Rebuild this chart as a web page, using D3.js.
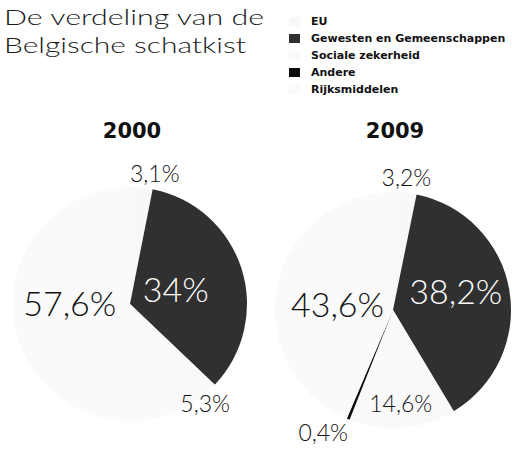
<!DOCTYPE html>
<html>
<head>
<meta charset="utf-8">
<script src="https://cdn.jsdelivr.net/npm/d3@7"></script>
<style>
  html, body { margin: 0; padding: 0; background: #fff; }
  svg { display: block; }
</style>
</head>
<body>
<svg id="chart" width="512" height="452"></svg>
<script>
// data
const categories = ["EU", "Gewesten en Gemeenschappen", "Sociale zekerheid", "Andere", "Rijksmiddelen"];
const years = ["2000", "2009"];
const values2000 = [3.1, 34, 5.3, 0, 57.6];
const values2009 = [3.2, 38.2, 14.6, 0.4, 43.6];
const titleLines = ["De verdeling van de", "Belgische schatkist"];

const holder = {
  "svg": d3.select("#chart"),
  "colors": ["#f8f8f8", "#303030", "#f9f9f9", "#0d0d0d", "#fafafa"],
  "pies": [
    {"cx": 130, "cy": 304, "r": 117},
    {"cx": 393, "cy": 310, "r": 118}
  ],
  // label placement per year, per category: k = radius factor, dx/dy shift
  "place": [
    [{"k": 1.12, "dx": 12, "dy": 0}, {"k": 0.41, "dx": 0, "dy": 0}, {"k": 1.07, "dx": 0, "dy": 0}, null, {"k": 0.53, "dx": 0, "dy": -15}],
    [{"k": 1.13, "dx": 0, "dy": 0}, {"k": 0.54, "dx": 0, "dy": -7}, {"k": 0.8, "dx": 0, "dy": 0}, {"k": 1.2, "dx": -16, "dy": -8}, {"k": 0.48, "dx": 0, "dy": 6}]
  ]
};

const nl = d3.formatLocale({"decimal": ",", "thousands": ".", "grouping": [3], "currency": ["€", ""]});
const pct = (v) => nl.format(".1~f")(v) + "%";

function start() {
  drawTitle();
  drawLegend();
  drawPie(0, values2000);
  drawPie(1, values2009);
}

function drawTitle() {
  const svg = holder.svg;
  svg.selectAll("text.title")
    .data(titleLines)
    .enter()
    .append("text")
    .attr("class", "title")
    .attr("x", 4)
    .attr("y", (d, i) => 25 + i * 28)
    .attr("font-family", "Lato, 'DejaVu Sans', sans-serif")
    .attr("font-weight", 300)
    .attr("font-size", "21px")
    .attr("fill", "#1a1a1a")
    .attr("textLength", (d, i) => i == 0 ? 260 : 242)
    .attr("lengthAdjust", "spacingAndGlyphs")
    .text(d => d);
}

function drawLegend() {
  const g = holder.svg.append("g").attr("class", "legend");
  const y = d3.scalePoint().domain(categories).range([25, 93]);
  const rows = g.selectAll("g").data(categories).enter().append("g");
  rows.append("rect")
    .attr("x", 289)
    .attr("y", d => y(d) - 8)
    .attr("width", 11)
    .attr("height", 9)
    .attr("fill", (d, i) => holder.colors[i]);
  rows.append("text")
    .attr("x", 311)
    .attr("y", d => y(d))
    .attr("font-family", "'DejaVu Sans', sans-serif")
    .attr("font-weight", "bold")
    .attr("font-size", "11px")
    .attr("fill", "#111")
    .text(d => d);
}

function drawPie(idx, values) {
  const p = holder.pies[idx];
  const g = holder.svg.append("g").attr("transform", "translate(" + p.cx + "," + p.cy + ")");
  const pie = d3.pie().sort(null).value(d => d.v);
  const data = pie(categories.map((c, i) => ({"c": c, "i": i, "v": values[i]})));
  const arc = d3.arc().innerRadius(0).outerRadius(p.r);

  g.selectAll("path")
    .data(data.filter(d => d.data.v > 0))
    .enter()
    .append("path")
    .attr("d", arc)
    .attr("fill", d => holder.colors[d.data.i]);

  // year on top
  holder.svg.append("text")
    .attr("x", p.cx + 2)
    .attr("y", 138)
    .attr("text-anchor", "middle")
    .attr("font-family", "'DejaVu Sans', sans-serif")
    .attr("font-weight", "bold")
    .attr("font-size", "21px")
    .attr("fill", "#111")
    .text(years[idx]);

  const big = [false, true, false, false, true];
  g.selectAll("text")
    .data(data.filter(d => d.data.v > 0))
    .enter()
    .append("text")
    .attr("transform", function(d) {
      const pl = holder.place[idx][d.data.i];
      const rr = p.r * pl.k;
      const c = d3.arc().innerRadius(rr).outerRadius(rr).centroid(d);
      const fs = big[d.data.i] ? 34 : 23;
      return "translate(" + (c[0] + pl.dx) + "," + (c[1] + pl.dy + fs * 0.36) + ")";
    })
    .attr("text-anchor", "middle")
    .attr("font-family", "Lato, 'DejaVu Sans', sans-serif")
    .attr("font-weight", 300)
    .attr("font-size", d => big[d.data.i] ? "34px" : "23px")
    .attr("fill", d => d.data.i == 1 ? "#fff" : "#111")
    .text(d => pct(d.data.v));
}

start();
</script>
</body>
</html>
